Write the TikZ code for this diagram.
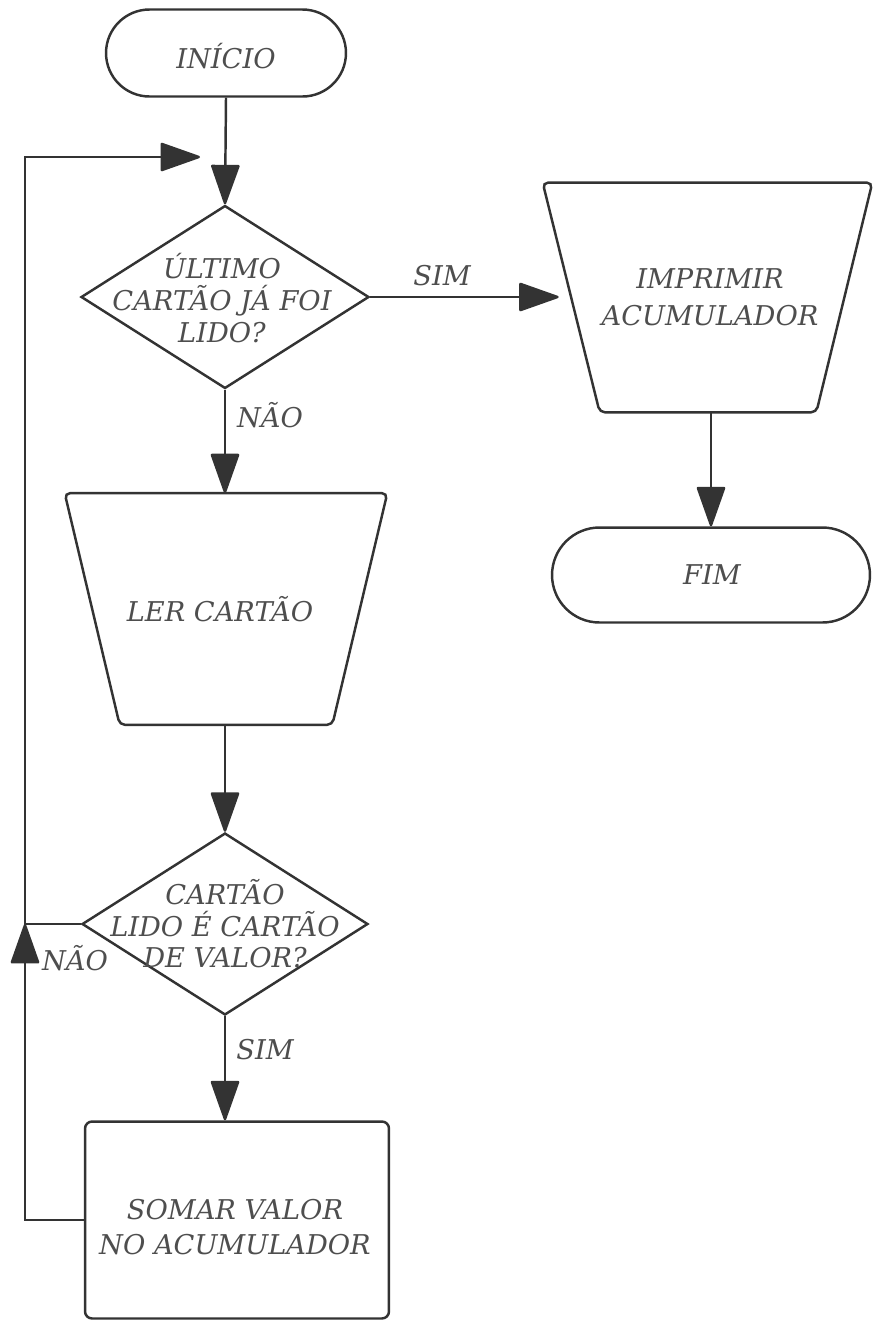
\documentclass[tikz,border=0pt]{standalone}
\usepackage{fontspec}
\setmainfont{DejaVu Serif}
\usetikzlibrary{shapes.geometric,shapes.misc,arrows.meta,calc}
\definecolor{ink}{HTML}{333333}
\definecolor{lettering}{HTML}{4E4E4E}
\begin{document}
\begin{tikzpicture}[x=0.02cm,y=-0.02cm,
  line/.style={draw=ink, line width=1.4pt},
  flow/.style={line, -{Triangle[length=0.84cm,width=0.58cm,round]}},
  terminal/.style={line, rounded rectangle, inner sep=0pt},
  decision/.style={line, diamond, inner sep=0pt},
  frame/.style={rectangle, inner sep=0pt},
  process/.style={line, rectangle, rounded corners=4pt, inner sep=0pt},
  txt/.style={font=\fontsize{15.5}{19}\selectfont\itshape, text=lettering, align=center},
]
\useasboundingbox (0,0) rectangle (873,1323);

% terminals, decisions and the process box
\node[terminal, minimum width=4.8cm, minimum height=1.74cm] (ini) at (226,53) {};
\node[decision, minimum width=5.76cm, minimum height=3.66cm] (d1) at (225,297) {};
\node[terminal, minimum width=6.36cm, minimum height=1.9cm] (fim) at (711,575) {};
\node[decision, minimum width=5.72cm, minimum height=3.64cm] (d2) at (225,924) {};
\node[process, minimum width=6.08cm, minimum height=3.94cm] (somar) at (237,1220) {};

% input/output boxes: frames that carry the trapezoid outlines
\node[frame, minimum width=6.58cm, minimum height=4.58cm] (imp) at (707.5,297.5) {};
\node[frame, minimum width=6.44cm, minimum height=4.62cm] (ler) at (226,609) {};
\draw[line, rounded corners=3pt] (imp.north west) -- (imp.north east)
  -- ([xshift=-1.12cm]imp.south east) -- ([xshift=1.14cm]imp.south west) -- cycle;
\draw[line, rounded corners=3pt] (ler.north west) -- (ler.north east)
  -- ([xshift=-1.1cm]ler.south east) -- ([xshift=1.1cm]ler.south west) -- cycle;

% texts inside the shapes
\node[txt] (tini) at (226,56) {INÍCIO};
\node[txt] (td1) at (222,298) {ÚLTIMO\\[-1pt]CARTÃO JÁ FOI\\[-1pt]LIDO?};
\node[txt] (timp) at (710,297) {IMPRIMIR\\[2pt]ACUMULADOR};
\node[txt] (tfim) at (712,575) {FIM};
\node[txt] (tler) at (220,609) {LER CARTÃO};
\node[txt] (td2) at (225,924) {CARTÃO\\[-1pt]LIDO É CARTÃO\\[-1pt]DE VALOR?};
\node[txt] (tsomar) at (235,1227) {SOMAR VALOR\\[1pt]NO ACUMULADOR};

% branch labels
\node[txt] (lsim1) at (442,276) {SIM};
\node[txt] (lnao1) at (270,415) {NÃO};
\node[txt] (lnao2) at (75,958) {NÃO};
\node[txt] (lsim2) at (265,1050) {SIM};

% loop-back path
\coordinate (lbot) at (25,1220);
\coordinate (njoin) at (25,924);
\coordinate (ltop) at (25,157);
\coordinate (lend) at (200,157);

% connectors
\draw[flow] (ini.south) -- (d1.north);
\draw[flow] (d1.east) -- ($(d1.east -| imp.west)+(16,0)$);
\draw[flow] (imp.south -| fim.north) -- (fim.north);
\draw[flow] (d1.south) -- (d1.south |- ler.north);
\draw[flow] (d2.north |- ler.south) -- (d2.north);
\draw[flow] (d2.south) -- (d2.south |- somar.north);
\draw[flow] (somar.west) -- (lbot) -- (njoin);
\draw[flow] (d2.west) -- (njoin) -- (ltop) -- (lend);
\end{tikzpicture}
\end{document}
